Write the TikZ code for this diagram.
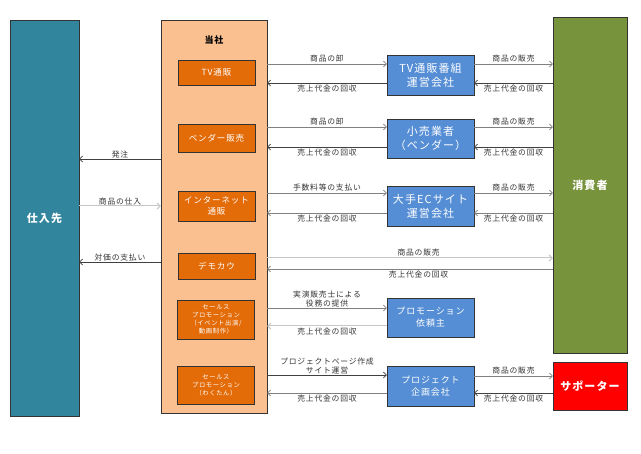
\documentclass[tikz,border=0pt]{standalone}
\usepackage{fontspec}
\setmainfont{Noto Sans CJK JP}[LetterSpace=10]
\usepackage{xcolor}
\usepackage{tikz}
\usetikzlibrary{arrows.meta, positioning, calc}

\definecolor{supplier}{HTML}{31859C}
\definecolor{company}{HTML}{FAC090}
\definecolor{service}{HTML}{E36C09}
\definecolor{partner}{HTML}{558ED5}
\definecolor{consumer}{HTML}{77933C}
\definecolor{supporter}{HTML}{FF0000}

\begin{document}
\begin{tikzpicture}[
        x=1pt, y=-1pt,
        bigbox/.style={rectangle, draw=black!80, thin, minimum width=70pt, align=center, text=white, font=\fontsize{11}{13}\selectfont\bfseries},
        service/.style={rectangle, draw=black!80, fill=service, minimum width=77pt, align=center, text=white, inner sep=1pt},
        partner/.style={rectangle, draw=black!80, fill=partner, minimum width=87pt, minimum height=40pt, align=center, text=white, font=\fontsize{11}{14}\selectfont},
        lbl/.style={font=\fontsize{7.8}{9.5}\selectfont, text=black!80, inner sep=1.5pt},
        fwd/.style={draw=gray, -{Straight Barb[length=3pt, width=6pt]}, line width=0.6pt},
        back/.style={draw=black!75, -{Straight Barb[length=3pt, width=6pt]}, line width=0.6pt},
        pale/.style={draw=black!22, -{Straight Barb[length=3pt, width=6pt]}, line width=1pt}
    ]
        \useasboundingbox (0,0) rectangle (641,454);

        % --- Left: Supplier ---
        \node[bigbox, fill=supplier, minimum width=69pt, minimum height=396pt] (shiire) at (44.5,218) {仕入先};

        % --- Middle: Company ---
        \node[rectangle, draw=black!80, fill=company, minimum width=106pt, minimum height=393pt] (tosha) at (214,216.5) {};
        \node[font=\fontsize{9}{11}\selectfont\bfseries] (toshaT) at (214,40) {当社};

        \node[service, minimum height=25pt, font=\fontsize{8.5}{10}\selectfont] (tv) at (216.5,72.5) {TV通販};
        \node[service, minimum height=28pt, font=\fontsize{8.5}{10}\selectfont] (vendor) at (216.5,138) {ベンダー販売};
        \node[service, minimum height=30pt, font=\fontsize{8.5}{11}\selectfont] (net) at (216.5,206) {インターネット\\通販};
        \node[service, minimum height=26pt, font=\fontsize{8.5}{10}\selectfont] (demo) at (216.5,266) {デモカウ};
        \node[service, minimum height=39pt, font=\fontsize{6.3}{8}\selectfont] (sp1) at (216,319.5) {セールス\\プロモーション\\（イベント出演/\\動画制作）};
        \node[service, minimum height=38pt, font=\fontsize{6.3}{8}\selectfont] (sp2) at (216,385) {セールス\\プロモーション\\（わくたん）};

        % --- Partners ---
        \node[partner] (tvco) at (430.5,75) {TV通販番組\\運営会社};
        \node[partner, minimum height=39pt] (retail) at (430.5,138.5) {小売業者\\（ベンダー）};
        \node[partner] (ecco) at (430.5,206) {大手ECサイト\\運営会社};
        \node[partner, minimum height=39pt, font=\fontsize{9}{12}\selectfont] (promo) at (430.5,317.5) {プロモーション\\依頼主};
        \node[partner, font=\fontsize{9}{12}\selectfont] (pjco) at (430.5,386) {プロジェクト\\企画会社};

        % --- Right: Consumer and Supporter ---
        \node[bigbox, fill=consumer, minimum width=74pt, minimum height=336pt] (shohi) at (590,185) {消費者};
        \node[bigbox, fill=supporter, minimum width=74pt, minimum height=48pt] (sup) at (590,386) {サポーター};

        % --- Company <-> Supplier ---
        \draw[back] (tosha.west |- 0,159) -- (shiire.east |- 0,159) node[lbl, midway, above, inner sep=0.5pt] {発注};
        \draw[pale] (shiire.east |- 0,206) -- (tosha.west |- 0,206) node[lbl, midway, above, inner sep=0.5pt] {商品の仕入};
        \draw[back] (tosha.west |- 0,262) -- (shiire.east |- 0,262) node[lbl, midway, above, inner sep=0.5pt] {対価の支払い};

        % --- Company <-> Partners ---
        \draw[fwd] (tosha.east |- 0,64) -- ([yshift=11pt]tvco.west) node[lbl, midway, above] {商品の卸};
        \draw[back] ([yshift=-8pt]tvco.west) -- (tosha.east |- 0,83) node[lbl, midway, below] {売上代金の回収};
        \draw[fwd] (tosha.east |- 0,127) -- ([yshift=11.5pt]retail.west) node[lbl, midway, above] {商品の卸};
        \draw[back] ([yshift=-8.5pt]retail.west) -- (tosha.east |- 0,147) node[lbl, midway, below] {売上代金の回収};
        \draw[fwd] (tosha.east |- 0,193) -- ([yshift=13pt]ecco.west) node[lbl, midway, above] {手数料等の支払い};
        \draw[fwd] ([yshift=-7pt]ecco.west) -- (tosha.east |- 0,213) node[lbl, midway, below] {売上代金の回収};
        \draw[fwd] (tosha.east |- 0,308) -- ([yshift=9.5pt]promo.west) node[lbl, midway, above, align=center, inner sep=0.5pt] {実演販売士による\\役務の提供};
        \draw[pale] ([yshift=-8.5pt]promo.west) -- (tosha.east |- 0,326) node[lbl, midway, below] {売上代金の回収};
        \draw[back] (tosha.east |- 0,375) -- ([yshift=11pt]pjco.west) node[lbl, midway, above, align=center, inner sep=0.5pt] {プロジェクトページ作成\\サイト運営};
        \draw[fwd] ([yshift=-7pt]pjco.west) -- (tosha.east |- 0,393) node[lbl, midway, below] {売上代金の回収};

        % --- Demokau <-> Consumer ---
        \draw[pale] (tosha.east |- 0,258) -- (shohi.west |- 0,258) node[lbl, pos=0.53, above] {商品の販売};
        \draw[fwd] (shohi.west |- 0,269) -- (tosha.east |- 0,269) node[lbl, pos=0.47, below] {売上代金の回収};

        % --- Partners <-> Consumer ---
        \draw[fwd] ([yshift=11pt]tvco.east) -- (shohi.west |- 0,64) node[lbl, midway, above] {商品の販売};
        \draw[back] (shohi.west |- 0,83) -- ([yshift=-8pt]tvco.east) node[lbl, midway, below] {売上代金の回収};
        \draw[fwd] ([yshift=11.5pt]retail.east) -- (shohi.west |- 0,127) node[lbl, midway, above] {商品の販売};
        \draw[back] (shohi.west |- 0,147) -- ([yshift=-8.5pt]retail.east) node[lbl, midway, below] {売上代金の回収};
        \draw[fwd] ([yshift=13pt]ecco.east) -- (shohi.west |- 0,193) node[lbl, midway, above] {商品の販売};
        \draw[fwd] (shohi.west |- 0,213) -- ([yshift=-7pt]ecco.east) node[lbl, midway, below] {売上代金の回収};
        \draw[fwd] ([yshift=10pt]pjco.east) -- ([yshift=10pt]sup.west) node[lbl, midway, above] {商品の販売};
        \draw[back] ([yshift=-7pt]sup.west) -- ([yshift=-7pt]pjco.east) node[lbl, midway, below] {売上代金の回収};

    \end{tikzpicture}
\end{document}
